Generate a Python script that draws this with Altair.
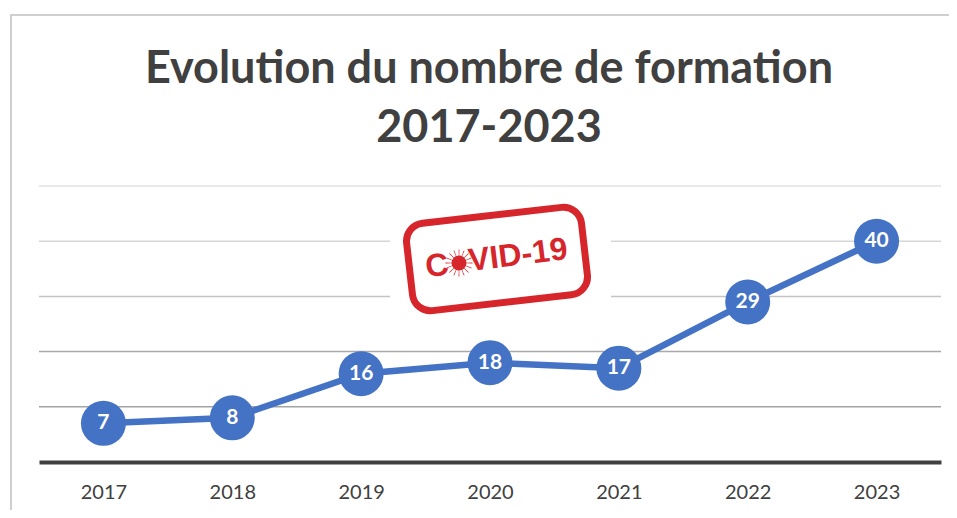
import math
import altair as alt
import pandas as pd

years = ["2017", "2018", "2019", "2020", "2021", "2022", "2023"]
formations = [7, 8, 16, 18, 17, 29, 40]
grid_values = [10, 20, 30, 40, 50]
grid_colors = ["#a3a3a3", "#a9a9a9", "#c4c4c4", "#d6d6d6", "#e2e2e2"]

title_lines = ["Evolution du nombre de formation", "2017-2023"]
title_baselines = [83, 142]
TEXT = "#404040"
BLUE = "#4472C4"
RED = "#D6262C"
FONT = "Lato"

PAD_L, PAD_T = 31, 178
W, H = 902, 276


def px(v):
    return alt.value(v - 8 - PAD_L)


def py(v):
    return alt.value(v - 8 - PAD_T)


def rounded_rect(w, h, r, deg):
    a = math.radians(deg)
    c, s = math.cos(a), math.sin(a)

    def p(x, y):
        return f"{(x * c - y * s) / 100:.4f},{(x * s + y * c) / 100:.4f}"

    hw, hh = w / 2, h / 2
    k = r * 0.45
    return (
        f"M{p(-hw + r, -hh)}L{p(hw - r, -hh)}"
        f"C{p(hw - k, -hh)} {p(hw, -hh + k)} {p(hw, -hh + r)}"
        f"L{p(hw, hh - r)}C{p(hw, hh - k)} {p(hw - k, hh)} {p(hw - r, hh)}"
        f"L{p(-hw + r, hh)}C{p(-hw + k, hh)} {p(-hw, hh - k)} {p(-hw, hh - r)}"
        f"L{p(-hw, -hh + r)}C{p(-hw, -hh + k)} {p(-hw + k, -hh)} {p(-hw + r, -hh)}Z"
    )


def virus(n=16):
    # a round body with thin radial spikes
    pts = []
    for i in range(n):
        t = 2 * math.pi * i / n
        for dt, r in ((-0.13, 0.55), (-0.035, 0.55), (-0.03, 1.0), (0.03, 1.0), (0.035, 0.55)):
            pts.append(f"{r * math.cos(t + dt):.3f},{r * math.sin(t + dt):.3f}")
    return "M" + "L".join(pts) + "Z"


df = pd.DataFrame({"year": years, "n": formations})
x = alt.X("year:N", title=None, axis=alt.Axis(
    labelAngle=0, labelFont=FONT, labelFontSize=20, labelColor=TEXT, labelPadding=20,
    ticks=False, domainColor="#404040", domainWidth=4, grid=False))
y = alt.Y("n:Q", scale=alt.Scale(domain=[0, 50]), axis=None)

grid = alt.Chart(pd.DataFrame({"v": grid_values, "c": grid_colors})).mark_rule(strokeWidth=1.5).encode(
    y=alt.Y("v:Q", scale=alt.Scale(domain=[0, 50]), axis=None),
    color=alt.Color("c:N", scale=None),
)

one = pd.DataFrame({"a": [0]})
frame_left = alt.Chart(one).mark_rule(color="#cfcfcf", strokeWidth=2).encode(
    x=px(11), y=py(15), y2=py(518))
frame_top = alt.Chart(one).mark_rule(color="#cfcfcf", strokeWidth=2).encode(
    x=px(10), x2=px(957), y=py(15))
title_marks = [
    alt.Chart(pd.DataFrame({"t": [line]})).mark_text(
        font=FONT, fontWeight="bold", fontSize=45, color=TEXT, align="center", baseline="alphabetic"
    ).encode(x=px(489), y=py(b), text="t:N")
    for line, b in zip(title_lines, title_baselines)
]
mask = alt.Chart(one).mark_rect(color="white").encode(
    x=px(390), x2=px(611), y=py(200), y2=py(325))
stamp = alt.Chart(one).mark_point(
    shape=rounded_rect(176, 88, 18, -6.5), size=40000, filled=False,
    stroke=RED, strokeWidth=7, opacity=1).encode(x=px(497), y=py(259))
covid_c = alt.Chart(one).mark_text(
    text="C", font="Liberation Sans", fontWeight="bold", fontSize=32, color=RED,
    angle=353, align="center", baseline="middle").encode(x=px(437), y=py(266))
covid_rest = alt.Chart(one).mark_text(
    text="VID-19", font="Liberation Sans", fontWeight="bold", fontSize=32, color=RED,
    angle=353, align="center", baseline="middle").encode(x=px(518), y=py(255))
virus_mark = alt.Chart(one).mark_point(
    shape=virus(), size=729, filled=True, color=RED, opacity=1).encode(x=px(459), y=py(263))

base = alt.Chart(df)
line = base.mark_line(color=BLUE, strokeWidth=6.5).encode(x=x, y=y)
dots = base.mark_circle(color=BLUE, size=2025, opacity=1).encode(x=x, y=y)
labels = base.mark_text(color="white", font=FONT, fontWeight="bold", fontSize=21,
                        baseline="middle").encode(x=x, y=y, text="n:Q")

chart = alt.layer(
    frame_left, frame_top, *title_marks, grid, mask, stamp, covid_c, covid_rest, virus_mark,
    line, dots, labels
).properties(
    width=W, height=H,
    padding={"left": PAD_L, "top": PAD_T, "right": 8, "bottom": 48},
    autosize=alt.AutoSizeParams(type="none"),
    background="white",
).configure_view(stroke=None)

chart.save("out.html", embed_options={"renderer": "svg", "actions": False})
